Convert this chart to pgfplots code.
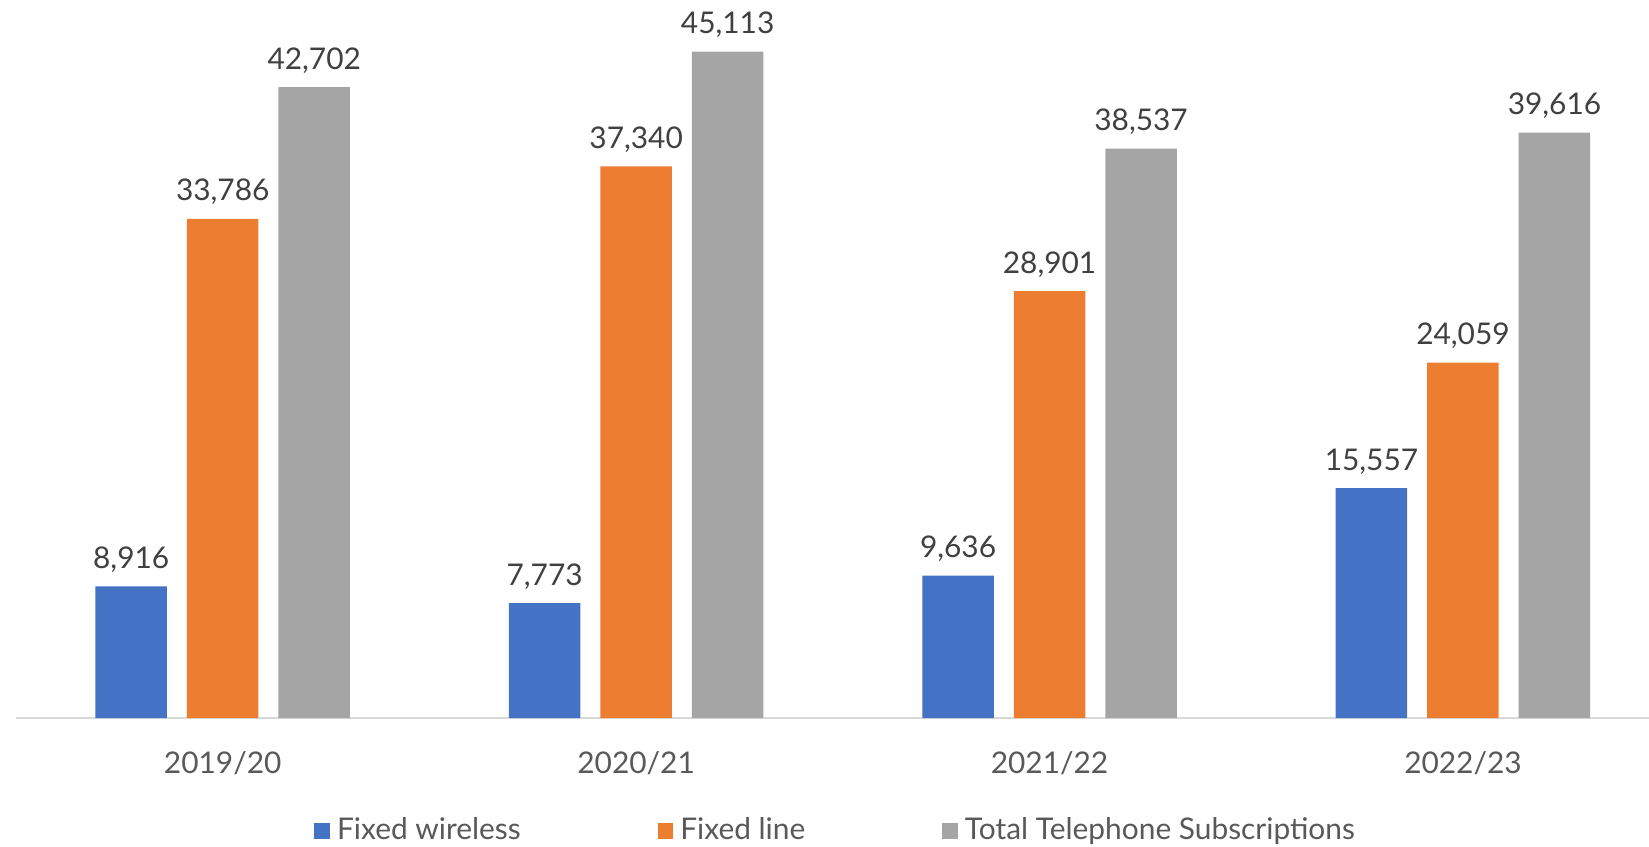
\documentclass[border=0pt]{standalone}
\usepackage{pgfplots}
\pgfplotsset{compat=1.18}
\usepackage{fontspec}
\setmainfont{Lato}
\definecolor{cBlue}{HTML}{4472C4}
\definecolor{cOrange}{HTML}{ED7D31}
\definecolor{cGray}{HTML}{A5A5A5}
\definecolor{cText}{HTML}{404040}
\definecolor{cTick}{HTML}{595959}
\definecolor{cAxis}{HTML}{D9D9D9}
\begin{document}
\begin{tikzpicture}
\path[use as bounding box] (0,0) rectangle (164.9mm,84.6mm);
\begin{axis}[
  at={(1.6mm,12.8mm)}, anchor=south west,
  scale only axis, width=163.3mm, height=71.8mm,
  ybar=2mm, bar width=7.15mm,
  xmin=-0.5, xmax=3.45, ymin=0, ymax=48600,
  axis y line=none, axis x line*=bottom,
  x axis line style={draw=cAxis, line width=0.25mm, -},
  xtick={0,1,2,3}, xticklabels={2019/20,2020/21,2021/22,2022/23},
  major tick length=0pt,
  xticklabel style={font=\fontsize{8.5}{10}\selectfont, text=cTick, yshift=-2.1mm},
  /pgf/number format/assume math mode=true,
  nodes near coords={\pgfmathprintnumber[fixed,precision=0,1000 sep={,}]{\pgfplotspointmeta}},
  every node near coord/.append style={font=\fontsize{8.5}{10}\selectfont, text=cText, anchor=base, yshift=1.8mm, inner sep=0pt},
  legend columns=3,
  legend style={draw=none, at={(0.5035,-0.1575)}, anchor=center, font=\fontsize{8.5}{10}\selectfont, text=cTick,
    /tikz/every even column/.append style={column sep=13mm}},
  legend image code/.code={\fill[#1] (0,-0.8mm) rectangle (1.55mm,0.8mm);},
]
\addplot[fill=cBlue, draw=none] coordinates {(0,8916) (1,7773) (2,9636) (3,15557)};
\addplot[fill=cOrange, draw=none] coordinates {(0,33786) (1,37340) (2,28901) (3,24059)};
\addplot[fill=cGray, draw=none] coordinates {(0,42702) (1,45113) (2,38537) (3,39616)};
\legend{Fixed wireless, Fixed line, Total Telephone Subscriptions}
\end{axis}
\end{tikzpicture}
\end{document}
